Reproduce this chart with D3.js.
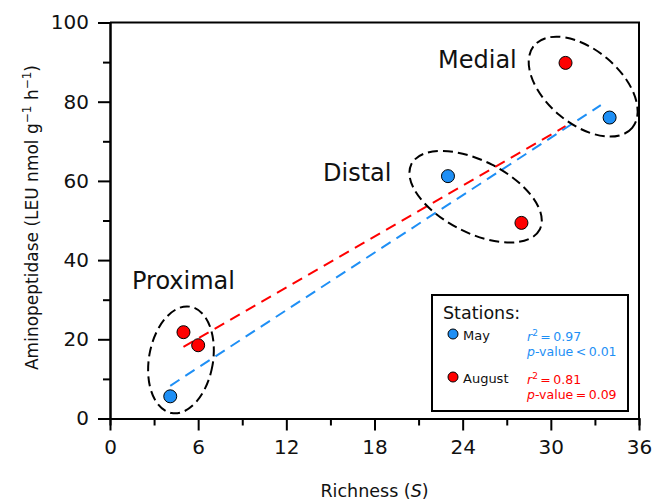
<!DOCTYPE html>
<html>
<head>
<meta charset="utf-8">
<script src="https://cdn.jsdelivr.net/npm/d3@7"></script>
<style>
  body { margin: 0; background: #fff; }
  text { font-family: "DejaVu Sans", Verdana, sans-serif; }
</style>
</head>
<body>
<div id="chart"></div>
<script>
// Richness vs aminopeptidase, two sampling campaigns
const mayRichness = [4.1, 23, 34];
const mayLeu = [5.6, 61.2, 76.0];
const augustRichness = [5, 6, 28, 31];
const augustLeu = [21.8, 18.5, 49.4, 89.8];

// x extent of each fitted line, as drawn
const mayFitRange = [4.1, 33.4];
const augustFitRange = [5, 31];

const xMajor = [0, 6, 12, 18, 24, 30, 36];
const xMinor = [3, 9, 15, 21, 27, 33];
const yMajor = [0, 20, 40, 60, 80, 100];
const yMinor = [10, 30, 50, 70, 90];

const groupNames = ['Proximal', 'Distal', 'Medial'];
const groupCenters = [[4.83, 14.8], [24.88, 56.0], [32.2, 83.8]]; // data units

const blue = '#1e8ff5';
const red = '#ff0000';

const margin = { top: 22.5, right: 17, bottom: 85.5, left: 110 };
const W = 656, H = 504;
const width = W - margin.left - margin.right;
const height = H - margin.top - margin.bottom;

const svg = d3.select('#chart')
  .append('svg')
  .attr('width', W)
  .attr('height', H);

const g = svg.append('g')
  .attr('transform', `translate(${margin.left}, ${margin.top})`);

const x = d3.scaleLinear().domain([0, 36]).range([0, width]);
const y = d3.scaleLinear().domain([0, 100]).range([height, 0]);

// frame (top + right)
g.append('path')
  .attr('d', `M0,0H${width}V${height}`)
  .attr('fill', 'none')
  .attr('stroke', '#000')
  .attr('stroke-width', 2);

// axes: majors with labels, minors shorter
function styleAxis(sel) {
  sel.select('.domain').attr('stroke-width', 2);
  sel.selectAll('.tick line').attr('stroke-width', 2);
  sel.selectAll('.tick text')
    .attr('font-size', '20px')
    .attr('font-family', '"DejaVu Sans", Verdana, sans-serif')
    .attr('fill', '#111');
}

g.append('g')
  .attr('transform', `translate(0, ${height})`)
  .call(d3.axisBottom(x).tickValues(xMinor).tickSize(7).tickFormat(''))
  .call(styleAxis);
g.append('g')
  .attr('transform', `translate(0, ${height})`)
  .call(d3.axisBottom(x).tickValues(xMajor).tickSize(12).tickPadding(9).tickSizeOuter(0))
  .call(styleAxis);

g.append('g')
  .call(d3.axisLeft(y).tickValues(yMinor).tickSize(7).tickFormat(''))
  .call(styleAxis);
g.append('g')
  .call(d3.axisLeft(y).tickValues(yMajor).tickSize(12).tickPadding(9).tickSizeOuter(0))
  .call(styleAxis);

// axis titles
const xt = svg.append('text')
  .attr('x', margin.left + width / 2)
  .attr('y', 497)
  .attr('text-anchor', 'middle')
  .attr('font-size', '17.5px')
  .attr('fill', '#111');
xt.append('tspan').text('Richness (');
xt.append('tspan').attr('font-style', 'italic').text('S');
xt.append('tspan').text(')');

const yt = svg.append('text')
  .attr('transform', `translate(38, ${margin.top + height / 2 - 3}) rotate(-90)`)
  .attr('text-anchor', 'middle')
  .attr('font-size', '17px')
  .attr('fill', '#111');
yt.append('tspan').text('Aminopeptidase (LEU nmol g');
yt.append('tspan').attr('font-size', '12px').attr('dy', -7).text('\u22121');
yt.append('tspan').attr('dy', 7).text(' h');
yt.append('tspan').attr('font-size', '12px').attr('dy', -7).text('\u22121');
yt.append('tspan').attr('dy', 7).text(')');

// least squares fit
function fit(xs, ys) {
  const mx = d3.mean(xs), my = d3.mean(ys);
  const sxy = d3.sum(xs, (v, i) => (v - mx) * (ys[i] - my));
  const sxx = d3.sum(xs, v => (v - mx) * (v - mx));
  const b = sxy / sxx;
  return v => my + b * (v - mx);
}

const line = d3.line().x(d => x(d[0])).y(d => y(d[1]));
const mayFit = fit(mayRichness, mayLeu);
const augFit = fit(augustRichness, augustLeu);

g.append('path')
  .datum(augustFitRange.map(v => [v, augFit(v)]))
  .attr('d', line)
  .attr('fill', 'none')
  .attr('stroke', red)
  .attr('stroke-width', 2)
  .attr('stroke-dasharray', '11,7');

g.append('path')
  .datum(mayFitRange.map(v => [v, mayFit(v)]))
  .attr('d', line)
  .attr('fill', 'none')
  .attr('stroke', blue)
  .attr('stroke-width', 2)
  .attr('stroke-dasharray', '11,7');

// station group ellipses
const ellipseShape = [
  { rx: 32, ry: 54, rot: 10 },
  { rx: 72, ry: 36, rot: 27 },
  { rx: 64, ry: 37, rot: 40 }
];
g.selectAll('.grp')
  .data(groupCenters)
  .enter().append('ellipse')
  .attr('class', 'grp')
  .attr('transform', (d, i) => `translate(${x(d[0])}, ${y(d[1])}) rotate(${ellipseShape[i].rot})`)
  .attr('rx', (d, i) => ellipseShape[i].rx)
  .attr('ry', (d, i) => ellipseShape[i].ry)
  .attr('fill', 'none')
  .attr('stroke', '#000')
  .attr('stroke-width', 2)
  .attr('stroke-dasharray', '10,5');

// group labels
const labelPos = [[22, 266], [213, 158], [328, 45]];
g.selectAll('.glab')
  .data(groupNames)
  .enter().append('text')
  .attr('class', 'glab')
  .attr('x', (d, i) => labelPos[i][0])
  .attr('y', (d, i) => labelPos[i][1])
  .attr('font-size', '24px')
  .attr('fill', '#111')
  .text(d => d);

// points
g.selectAll('.may')
  .data(mayRichness)
  .enter().append('circle')
  .attr('cx', d => x(d))
  .attr('cy', (d, i) => y(mayLeu[i]))
  .attr('r', 6.5)
  .attr('fill', blue)
  .attr('stroke', '#000')
  .attr('stroke-width', 1);

g.selectAll('.aug')
  .data(augustRichness)
  .enter().append('circle')
  .attr('cx', d => x(d))
  .attr('cy', (d, i) => y(augustLeu[i]))
  .attr('r', 6.5)
  .attr('fill', red)
  .attr('stroke', '#000')
  .attr('stroke-width', 1);

// legend
const lg = svg.append('g');
lg.append('rect')
  .attr('x', 432).attr('y', 295)
  .attr('width', 196).attr('height', 116)
  .attr('fill', '#fff')
  .attr('stroke', '#000')
  .attr('stroke-width', 2);
lg.append('text')
  .attr('x', 443).attr('y', 319)
  .attr('font-size', '17.5px')
  .attr('fill', '#111')
  .text('Stations:');

const legendRows = [
  { name: 'May', color: blue, r2: '0.97', p: '<\u20090.01', y: 340 },
  { name: 'August', color: red, r2: '0.81', p: '=\u20090.09', y: 383 }
];
legendRows.forEach(row => {
  lg.append('circle')
    .attr('cx', 453).attr('cy', row.y - 6)
    .attr('r', 5)
    .attr('fill', row.color)
    .attr('stroke', '#000')
    .attr('stroke-width', 1);
  lg.append('text')
    .attr('x', 463).attr('y', row.y)
    .attr('font-size', '13px')
    .attr('fill', '#111')
    .text(row.name);
  const t1 = lg.append('text')
    .attr('x', 527).attr('y', row.y + 1)
    .attr('font-size', '12.5px')
    .attr('fill', row.color);
  t1.append('tspan').attr('font-style', 'italic').text('r');
  t1.append('tspan').attr('font-size', '9px').attr('dy', -5).text('2');
  t1.append('tspan').attr('dy', 5).text('\u2009=\u2009' + row.r2);
  const t2 = lg.append('text')
    .attr('x', 527).attr('y', row.y + 16)
    .attr('font-size', '12.5px')
    .attr('fill', row.color);
  t2.append('tspan').attr('font-style', 'italic').text('p');
  t2.append('tspan').text('-value\u2009' + row.p);
});
</script>
</body>
</html>
